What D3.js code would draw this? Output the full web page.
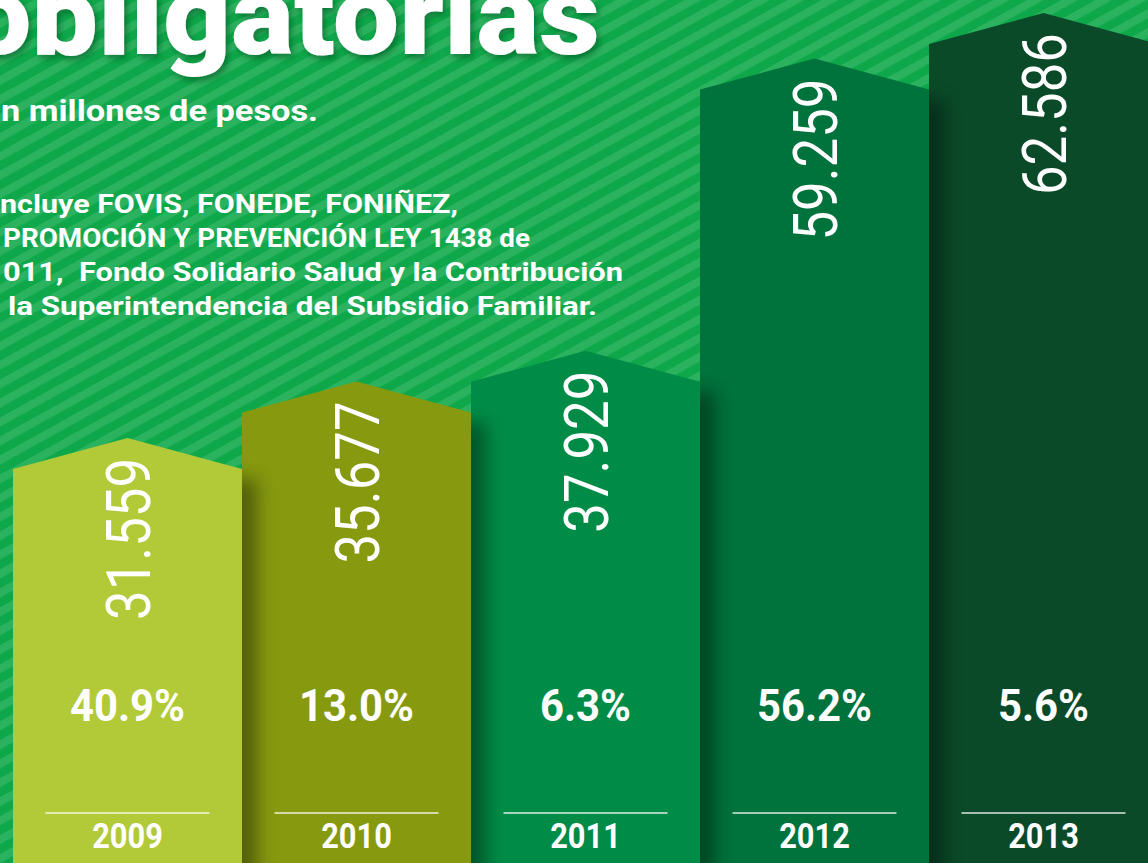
<!DOCTYPE html>
<html>
<head>
<meta charset="utf-8">
<script src="https://cdn.jsdelivr.net/npm/d3@7"></script>
<style>
  body { margin: 0; overflow: hidden; background: #0ea84b; }
  text { font-family: Roboto, "Noto Sans", sans-serif; white-space: pre; }
</style>
</head>
<body>
<svg id="chart" width="1148" height="863"></svg>
<script>
// data
const years = ["2009", "2010", "2011", "2012", "2013"];
const values = [31559, 35677, 37929, 59259, 62586];   // millones de pesos
const growth = [40.9, 13.0, 6.3, 56.2, 5.6];          // % variación
const barColors = ["#b2ca37", "#86990f", "#008c47", "#00723c", "#0a4a29"];

const titleText = "obligatorias";
const subtitleText = "n millones de pesos.";
const noteLines = [
  "ncluye FOVIS, FONEDE, FONIÑEZ,",
  "PROMOCIÓN Y PREVENCIÓN LEY 1438 de",
  "011,  Fondo Solidario Salud y la Contribución",
  "la Superintendencia del Subsidio Familiar."
];

const W = 1148, H = 863;
const svg = d3.select("#chart");
const defs = svg.append("defs");

// squash / stretch text to a measured width (the original uses a DIN face)
function fit(sel, w) {
  sel.attr("textLength", w).attr("lengthAdjust", "spacingAndGlyphs");
}
function squeeze(sel, k) {
  sel.each(function () {
    const n = this.getComputedTextLength();
    d3.select(this).attr("textLength", n * k).attr("lengthAdjust", "spacingAndGlyphs");
  });
}

// striped background
const pat = defs.append("pattern")
  .attr("id", "stripes")
  .attr("patternUnits", "userSpaceOnUse")
  .attr("width", 40).attr("height", 16.6)
  .attr("patternTransform", "rotate(-29)");
pat.append("rect").attr("width", 40).attr("height", 16.6).attr("fill", "#0ea84b");
pat.append("rect").attr("y", 0).attr("width", 40).attr("height", 8).attr("fill", "#2bb25f");

svg.append("rect").attr("width", W).attr("height", H).attr("fill", "url(#stripes)");

// filters
const ds = defs.append("filter").attr("id", "titleShadow")
  .attr("x", "-10%").attr("y", "-30%").attr("width", "120%").attr("height", "160%");
ds.append("feDropShadow")
  .attr("dx", 3).attr("dy", 4).attr("stdDeviation", 3)
  .attr("flood-color", "#04501f").attr("flood-opacity", 0.55);

defs.append("filter").attr("id", "soft")
  .attr("x", "-100%").attr("y", "-20%").attr("width", "300%").attr("height", "140%")
  .append("feGaussianBlur").attr("stdDeviation", 9);

// title + texts
svg.append("text")
  .attr("x", -35).attr("y", 54)
  .attr("fill", "#fff")
  .attr("font-size", 112).attr("font-weight", 900)
  .attr("filter", "url(#titleShadow)")
  .text(titleText)
  .call(fit, 635);

svg.append("text")
  .attr("x", 1).attr("y", 121)
  .attr("fill", "#fff")
  .attr("font-size", 30).attr("font-weight", 700)
  .text(subtitleText)
  .call(fit, 317);

const noteX = [0, 3, 3, 8];
const noteW = [458, 527, 620, 589];
svg.append("g").selectAll("text")
  .data(noteLines)
  .join("text")
  .attr("x", (d, i) => noteX[i])
  .attr("y", (d, i) => 213 + i * 34)
  .attr("fill", "#fff")
  .attr("font-size", 25).attr("font-weight", 700)
  .text(d => d)
  .each(function (d, i) { d3.select(this).call(fit, noteW[i]); });

// scales
const x = d3.scaleBand().domain(years).range([13, 1158]).padding(0);
const y = d3.scaleLinear().domain([0, 65000]).range([901, 11]);
const roof = 31;

const bars = years.map((yr, i) => ({
  year: yr, value: values[i], growth: growth[i], color: barColors[i], i: i
}));

function barPath(d) {
  const l = x(d.year), r = l + x.bandwidth(), c = l + x.bandwidth() / 2;
  const s = y(d.value), b = y(0);
  return `M${l},${b}L${l},${s}L${c},${s - roof}L${r},${s}L${r},${b}Z`;
}

// bar clip paths (for the shading cast from the neighbour)
defs.selectAll("clipPath.bar")
  .data(bars)
  .join("clipPath")
  .attr("class", "bar")
  .attr("id", d => "clip" + d.i)
  .append("path")
  .attr("d", barPath);

const g = svg.append("g");

g.selectAll("path.bar")
  .data(bars)
  .join("path")
  .attr("class", "bar")
  .attr("d", barPath)
  .attr("fill", d => d.color);

// shading on the left edge of each bar, starting below the previous bar's top
g.selectAll("g.shade")
  .data(bars.slice(1))
  .join("g")
  .attr("class", "shade")
  .attr("clip-path", d => `url(#clip${d.i})`)
  .append("rect")
  .attr("x", d => x(d.year) - 25)
  .attr("y", d => y(values[d.i - 1]) + 10)
  .attr("width", 40)
  .attr("height", H)
  .attr("fill", "#000")
  .attr("opacity", 0.38)
  .attr("filter", "url(#soft)");

// rotated values
const fmt = d3.formatLocale({ decimal: ",", thousands: ".", grouping: [3], currency: ["$", ""] }).format(",d");

g.selectAll("text.value")
  .data(bars)
  .join("text")
  .attr("class", "value")
  .attr("transform", d => {
    const cx = x(d.year) + x.bandwidth() / 2 + 22;
    const cy = y(d.value) - roof + 20;
    return `translate(${cx},${cy}) rotate(-90)`;
  })
  .attr("text-anchor", "end")
  .attr("fill", "#fff")
  .attr("font-size", 62).attr("font-weight", 400)
  .text(d => fmt(d.value))
  .call(fit, 162);

// growth %
g.selectAll("text.pct")
  .data(bars)
  .join("text")
  .attr("class", "pct")
  .attr("x", d => x(d.year) + x.bandwidth() / 2)
  .attr("y", 721)
  .attr("text-anchor", "middle")
  .attr("fill", "#fff")
  .attr("font-size", 44).attr("font-weight", 700)
  .text(d => d3.format(".1f")(d.growth) + "%")
  .call(squeeze, 0.95);

// separator lines
g.selectAll("line.sep")
  .data(bars)
  .join("line")
  .attr("class", "sep")
  .attr("x1", d => x(d.year) + x.bandwidth() / 2 - 82)
  .attr("x2", d => x(d.year) + x.bandwidth() / 2 + 82)
  .attr("y1", 813).attr("y2", 813)
  .attr("stroke", "#fff")
  .attr("stroke-opacity", 0.85)
  .attr("stroke-width", 1.5);

// year labels
g.selectAll("text.year")
  .data(bars)
  .join("text")
  .attr("class", "year")
  .attr("x", d => x(d.year) + x.bandwidth() / 2)
  .attr("y", 848)
  .attr("text-anchor", "middle")
  .attr("fill", "#fff")
  .attr("font-size", 35).attr("font-weight", 700)
  .text(d => d.year)
  .call(squeeze, 0.88);
</script>
</body>
</html>
